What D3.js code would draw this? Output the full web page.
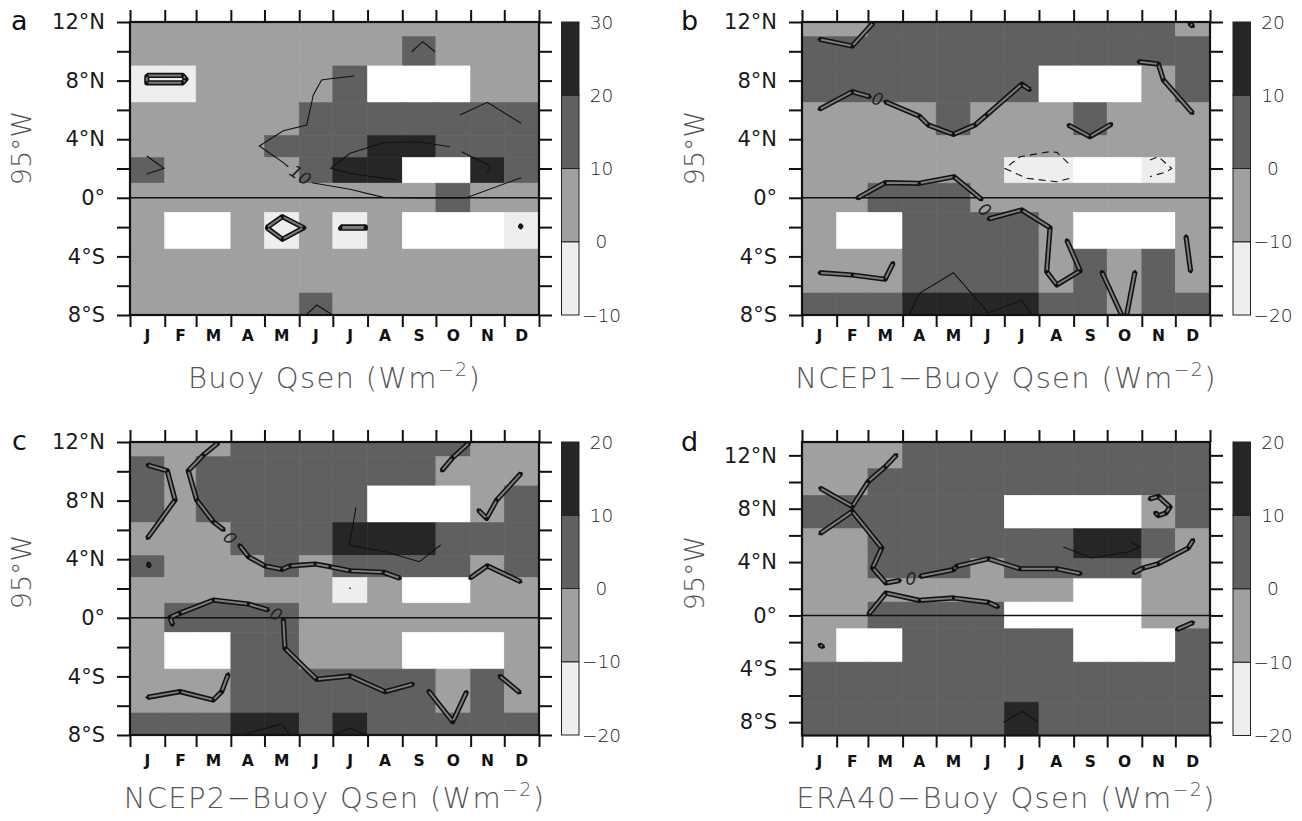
<!DOCTYPE html>
<html><head><meta charset="utf-8">
<script src="https://cdn.jsdelivr.net/npm/d3@7"></script>
<style>
body{margin:0;background:#fff}
svg{display:block}
text{font-family:"DejaVu Sans",sans-serif}
</style>
</head><body>
<svg id="chart" width="1302" height="821"></svg>
<script>
// ---------------- DATA ----------------
const monthLabels = ["J","F","M","A","M","J","J","A","S","O","N","D"];
const monthEdgeDays = [0,31,59,90,120,151,181,212,243,273,304,334,365];
const buoyLats = [12,10,8,5,3.5,2,0,-2,-5,-8];
const latTicks = [-8,-6,-4,-2,0,2,4,6,8,10,12];
const latTickLabels = {"12":"12°N","8":"8°N","4":"4°N","0":"0°","-4":"4°S","-8":"8°S"};
const panelLetters = ["a","b","c","d"];
const panelTitles = ["Buoy Qsen ","NCEP1\u2212Buoy Qsen ","NCEP2\u2212Buoy Qsen ","ERA40\u2212Buoy Qsen "];
const unitsBase = "(Wm", unitsExp = "\u22122", unitsEnd = ")";
const axisTitle = "95°W";
const levelsBuoy = [-10,0,10,20,30];
const levelsDiff = [-20,-10,0,10,20];
const shades = ["#eeeeee","#a0a0a0","#606060","#262626"];

// cell values (W m-2), rows = buoyLats, columns = months; null = no data
const buoyQsen = [
 [5,5,5,5,5,5,5,5,5,5,5,5],
 [5,5,5,5,5,5,5,5,15,5,5,5],
 [-5,-5,5,5,5,5,15,null,null,null,5,5],
 [5,5,5,5,5,15,15,15,15,15,15,15],
 [5,5,5,5,15,15,15,25,25,15,15,15],
 [15,5,5,5,5,15,25,25,null,null,25,15],
 [5,5,5,5,5,5,5,5,5,15,5,5],
 [5,null,null,5,-5,5,-5,5,null,null,null,-5],
 [5,5,5,5,5,5,5,5,5,5,5,5],
 [5,5,5,5,5,15,5,5,5,5,5,5]
];
const ncep1Diff = [
 [-5,-5,5,5,5,5,5,5,5,5,5,-5],
 [5,5,5,5,5,5,5,5,5,5,5,5],
 [5,5,5,5,5,5,5,null,null,null,-5,5],
 [-5,-5,-5,-5,5,-5,-5,-5,5,-5,-5,-5],
 [-5,-5,-5,-5,-5,-5,-5,-5,-5,-5,-5,-5],
 [-5,-5,-5,-5,-5,-5,-15,-15,null,null,-15,-5],
 [-5,-5,5,5,5,-5,-5,-5,-5,-5,-5,-5],
 [-5,null,null,5,5,5,5,-5,null,null,null,-5],
 [-5,-5,-5,5,5,5,5,-5,5,-5,5,-5],
 [5,5,5,15,15,15,15,5,5,-5,5,5]
];
const ncep2Diff = [
 [-5,-5,-5,5,5,5,5,5,5,5,-5,-5],
 [5,-5,5,5,5,5,5,5,5,-5,-5,-5],
 [5,-5,5,5,5,5,5,null,null,null,-5,5],
 [-5,-5,-5,5,5,5,15,15,15,5,5,5],
 [5,-5,-5,-5,5,-5,5,5,5,5,-5,5],
 [-5,-5,-5,-5,-5,-5,-15,-5,null,null,-5,-5],
 [-5,5,5,5,5,-5,-5,-5,-5,-5,-5,-5],
 [-5,null,null,5,5,-5,-5,-5,null,null,null,-5],
 [-5,-5,-5,5,5,5,5,5,5,-5,5,-5],
 [5,5,5,15,15,5,15,5,5,5,5,5]
];
const era40Diff = [
 [-5,-5,-5,5,5,5,5,5,5,5,5,5],
 [-5,-5,5,5,5,5,5,5,5,5,5,5],
 [5,5,5,5,5,5,null,null,null,null,-5,5],
 [-5,-5,5,5,5,5,5,5,15,15,5,-5],
 [-5,-5,5,5,5,-5,5,5,5,5,-5,-5],
 [-5,-5,-5,-5,-5,-5,-5,-5,null,null,-5,-5],
 [-5,-5,5,5,5,5,null,null,null,null,-5,-5],
 [-5,null,null,5,5,5,5,5,null,null,null,5],
 [5,5,5,5,5,5,5,5,5,5,5,5],
 [5,5,5,5,5,5,15,5,5,5,5,5]
];

// contour polylines as [day of year, latitude]; kind: zero (double line), pos (solid), neg (dashed)
const buoyContours = [
 {kind:"zero", pts:[[15,8.35],[47,8.35],[50,8.1],[47,7.85],[15,7.85],[15,8.35]]},
 {kind:"zero", pts:[[122,-2.04],[136,-1.29],[155,-2.04],[136,-2.83],[122,-2.04]]},
 {kind:"zero", pts:[[188,-1.99],[210,-1.99],[210,-2.07],[188,-2.07],[188,-1.99]]},
 {kind:"zero", pts:[[348.5,-1.85],[348.8,-2.05]]},
 {kind:"pos", pts:[[200,8.31],[178.5,8.13],[171,8.04],[163.6,7.02],[157.7,4.97],[136.8,4.58],[115.4,3.54],[136.8,2.4],[141.3,2.12]]},
 {kind:"pos", pts:[[162.2,1.03],[196.3,0.58],[226,0.03],[257.3,-0.01],[299.6,-0.01],[349,1.37]]},
 {kind:"pos", pts:[[294.5,5.65],[318.9,6.52],[349,5.09]]},
 {kind:"pos", pts:[[285.6,3.49],[257.3,3.83],[226.1,3.76],[196.3,3.04],[179.1,2.01],[196.3,1.67],[226.1,1.33],[238,1.26]]},
 {kind:"pos", pts:[[296,3.15],[319.8,2.24],[321.9,2.01],[318.3,1.78]]},
 {kind:"pos", pts:[[251.4,9.97],[261.2,10.66],[272.2,9.97]]},
 {kind:"pos", pts:[[14.9,2.85],[30.3,2.01],[14.9,1.62]]},
 {kind:"pos", pts:[[157.1,-8],[166.6,-7.32],[180.9,-8]]}
];
const ncep1Contours = [
 {kind:"zero", pts:[[15.5,10.82],[45,10.36],[63.8,11.95]]},
 {kind:"zero", pts:[[346.5,11.9],[350,11.7]]},
 {kind:"zero", pts:[[15.5,6.04],[45,7.24],[60.8,6.9]]},
 {kind:"zero", pts:[[74.3,6.56],[104.9,5.58],[113,4.97],[135.4,4.33],[154.8,4.97],[165.2,5.65],[196.6,7.75],[204,7.36]]},
 {kind:"zero", pts:[[49.5,-0.03],[74.3,1.03],[104.9,0.99],[136,1.44],[160.8,-0.12]]},
 {kind:"zero", pts:[[166.7,-1.45],[196.6,-0.83],[221.9,-2.04],[218.9,-5.04],[227.9,-5.95],[248.8,-4.98],[236.8,-2.88]]},
 {kind:"zero", pts:[[15.5,-5.11],[45,-5.27],[74.3,-5.56],[81.7,-4.43]]},
 {kind:"zero", pts:[[268.1,-5.04],[286,-8]]},
 {kind:"zero", pts:[[290.5,-8],[297.9,-5.04]]},
 {kind:"zero", pts:[[238.2,4.97],[257.6,4.17],[277,5.04]]},
 {kind:"zero", pts:[[300.9,9.29],[318.8,9.13],[323.3,8.04],[349.5,5.77]]},
 {kind:"zero", pts:[[343.5,-2.61],[347.7,-5.04]]},
 {kind:"neg", pts:[[238.2,2.36],[228,3.1],[222,3.15],[195,2.8],[181.6,2.0],[201,1.33],[228,1.1],[240,1.33]]},
 {kind:"neg", pts:[[311.3,2.58],[318.8,2.81],[330.7,2.01],[326.3,1.78],[311.3,1.44]]},
 {kind:"pos", pts:[[96,-8],[105,-6.52],[135.4,-5.11],[166.7,-7.84],[196.6,-6.98],[205.5,-8]]}
];
const ncep2Contours = [
 {kind:"zero", pts:[[15.5,10.43],[33.3,10.04],[40.2,8.04],[15.5,5.43]]},
 {kind:"zero", pts:[[78.8,11.95],[65.4,11.11],[52,10.04],[59.5,8.04],[74.3,6.56],[83.9,5.99]]},
 {kind:"zero", pts:[[97.5,4.97],[105.6,4.17],[120.5,3.54],[135.4,3.31],[142.8,3.54],[165.1,3.67],[178.5,3.49],[196.3,3.21],[226.1,3.11],[241,2.7]]},
 {kind:"zero", pts:[[303.4,2.7],[318.9,3.54],[348.7,2.46]]},
 {kind:"zero", pts:[[38.1,-0.49],[35.7,0.03],[44.6,0.31],[74.3,1.21],[105.6,0.94],[123.4,0.53]]},
 {kind:"zero", pts:[[136.8,-0.1],[138.3,-2.08],[166.6,-4.2],[196.3,-3.97],[227.6,-5.04],[252.8,-4.52]]},
 {kind:"zero", pts:[[15.5,-5.43],[44.6,-5.04],[74.3,-5.61],[81.8,-5.04],[87.7,-3.84]]},
 {kind:"zero", pts:[[266.2,-4.97],[288,-7.09],[300.5,-5.04]]},
 {kind:"zero", pts:[[329.6,-3.95],[348,-5.11]]},
 {kind:"zero", pts:[[278.2,10.04],[288,10.93],[302.8,11.95]]},
 {kind:"zero", pts:[[310.8,7.36],[318.3,6.79],[327.3,8.04],[349,9.86]]},
 {kind:"zero", pts:[[16.3,3.72],[17.3,3.5]]},
 {kind:"pos", pts:[[201.7,7.54],[195.7,4.97],[227.6,4.51],[258.2,3.83],[277.3,4.97]]},
 {kind:"pos", pts:[[195.8,2.05],[197,1.98]]},
 {kind:"pos", pts:[[104.1,-7.88],[135.4,-7.25],[142.8,-8]]},
 {kind:"pos", pts:[[181.4,-8],[196.3,-7.54],[211.2,-8]]}
];
const era40Contours = [
 {kind:"zero", pts:[[84.7,12.04],[74.3,11.12],[59.3,10.04],[45,8.17],[16.1,9.55]]},
 {kind:"zero", pts:[[16.1,6.13],[45,7.8],[71.3,5.06],[63.2,3.56],[75.1,2.43],[87.7,2.63]]},
 {kind:"zero", pts:[[105.6,2.93],[135.4,3.43],[138.4,3.68],[166.7,4.25],[195,3.5],[227.9,3.5],[249.6,3.13]]},
 {kind:"zero", pts:[[59.3,0.06],[75.1,1.68],[105,1.13],[135.4,1.31],[166.7,0.98],[175.6,0.64]]},
 {kind:"zero", pts:[[15.5,-2.19],[19.1,-2.36]]},
 {kind:"zero", pts:[[296.4,3.18],[305.3,3.56],[318.8,3.88],[345.6,5.06],[350.1,5.68]]},
 {kind:"zero", pts:[[310.7,8.73],[318.8,8.92],[329.2,8.13],[325.6,7.68],[318.8,7.48],[315.8,7.72]]},
 {kind:"zero", pts:[[335.2,-1.06],[350.1,-0.52]]},
 {kind:"pos", pts:[[233.8,5.13],[259.2,4.31],[290.5,4.73],[302.4,5.13],[294.1,5.5]]},
 {kind:"pos", pts:[[180.1,-8.01],[196.5,-7.19],[211.4,-8.01]]}
];
// contour labels [day, lat, text, angle]
const buoyLabels = [[152,1.55,"10",34]];
const ncep1Labels = [[67.5,6.75,"0",18],[163.5,-0.8,"0",40]];
const ncep2Labels = [[89.5,5.45,"0",48],[130.5,0.25,"0",30]];
const era40Labels = [[97.5,2.72,"0",0]];

// ---------------- LAYOUT ----------------
const panels = [
 {values:buoyQsen, levels:levelsBuoy, contours:buoyContours, labels:buoyLabels,
  x0:130, x1:539, y0:22, y1:315, ydom:[-8,12], cbx:561.5, letter:[11,30], ytitle:[21,148], mlab:341, title:388},
 {values:ncep1Diff, levels:levelsDiff, contours:ncep1Contours, labels:ncep1Labels,
  x0:802, x1:1210, y0:22, y1:315, ydom:[-8,12], cbx:1233, letter:[681,30], ytitle:[694,148], mlab:341, title:388},
 {values:ncep2Diff, levels:levelsDiff, contours:ncep2Contours, labels:ncep2Labels,
  x0:130, x1:539, y0:442, y1:735, ydom:[-8,12], cbx:561.5, letter:[12,450], ytitle:[21,572], mlab:766, title:808},
 {values:era40Diff, levels:levelsDiff, contours:era40Contours, labels:era40Labels,
  x0:802, x1:1210, y0:442, y1:735.5, ydom:[-9,13], cbx:1233, letter:[681,451], ytitle:[694,573], mlab:767, title:808}
];

const svg = d3.select("#chart");

panels.forEach((p, pi) => {
  const g = svg.append("g");
  const x = d3.scaleLinear().domain([0,365]).range([p.x0,p.x1]);
  const y = d3.scaleLinear().domain(p.ydom).range([p.y1,p.y0]);
  const color = d3.scaleThreshold().domain(p.levels.slice(1,-1)).range(shades);

  // cells
  const cells = [];
  buoyLats.forEach((lat, i) => {
    const top = i === 0 ? p.ydom[1] : (buoyLats[i-1] + lat) / 2;
    const bot = i === buoyLats.length - 1 ? p.ydom[0] : (lat + buoyLats[i+1]) / 2;
    for (let j = 0; j < 12; j++) cells.push({top, bot, d0:monthEdgeDays[j], d1:monthEdgeDays[j+1], v:p.values[i][j]});
  });
  g.append("g").selectAll("rect").data(cells).join("rect")
    .attr("x", d => x(d.d0)).attr("width", d => x(d.d1) - x(d.d0))
    .attr("y", d => y(d.top)).attr("height", d => y(d.bot) - y(d.top))
    .attr("fill", d => d.v === null ? "#ffffff" : color(d.v))
    .attr("stroke", d => d.v === null ? "#ffffff" : color(d.v)).attr("stroke-width", 0.6);

  // clip
  const cid = "clip" + pi;
  svg.append("clipPath").attr("id", cid).append("rect")
    .attr("x", p.x0).attr("y", p.y0).attr("width", p.x1 - p.x0).attr("height", p.y1 - p.y0);
  const cg = g.append("g").attr("clip-path", `url(#${cid})`);

  // equator line
  cg.append("line").attr("x1", p.x0).attr("x2", p.x1).attr("y1", y(0)).attr("y2", y(0))
    .attr("stroke", "#111").attr("stroke-width", 1.6);

  const line = d3.line().x(d => x(d[0])).y(d => y(d[1]));
  p.contours.forEach(c => {
    if (c.kind === "zero") {
      cg.append("path").attr("d", line(c.pts)).attr("fill","none").attr("stroke","#121212")
        .attr("stroke-width",5.2).attr("stroke-linejoin","round");
      cg.append("path").attr("d", line(c.pts)).attr("fill","none").attr("stroke","#7c7c7c")
        .attr("stroke-width",2).attr("stroke-linejoin","round");
      cg.selectAll(null).data(c.pts).join("circle").attr("cx", d => x(d[0])).attr("cy", d => y(d[1]))
        .attr("r", 1.7).attr("fill", "#111");
    } else {
      cg.append("path").attr("d", line(c.pts)).attr("fill","none").attr("stroke","#111")
        .attr("stroke-width",1.1).attr("stroke-dasharray", c.kind === "neg" ? "7,5" : null);
    }
  });
  p.labels.forEach(l => {
    cg.append("text").attr("transform", `translate(${x(l[0])},${y(l[1])}) rotate(${l[3]})`)
      .attr("text-anchor","middle").attr("dy","0.36em").attr("font-size",17).attr("font-style","italic")
      .attr("fill","#222").text(l[2]);
  });

  // axes
  const yAxisL = d3.axisLeft(y).tickValues(latTicks).tickSize(13).tickSizeOuter(0).tickPadding(12)
    .tickFormat(d => latTickLabels[String(d)] || "");
  const ga = g.append("g").attr("transform", `translate(${p.x0},0)`).call(yAxisL);
  ga.select(".domain").remove();
  ga.selectAll("text").attr("font-size", 21).attr("fill", "#1a1a1a").attr("font-family","DejaVu Sans");
  const gr = g.append("g").attr("transform", `translate(${p.x1},0)`)
    .call(d3.axisRight(y).tickValues(latTicks).tickSize(13).tickFormat(""));
  gr.select(".domain").remove();
  const gt = g.append("g").attr("transform", `translate(0,${p.y0})`)
    .call(d3.axisTop(x).tickValues(monthEdgeDays).tickSize(12).tickFormat(""));
  gt.select(".domain").remove();
  const gb = g.append("g").attr("transform", `translate(0,${p.y1})`)
    .call(d3.axisBottom(x).tickValues(monthEdgeDays).tickSize(12).tickFormat(""));
  gb.select(".domain").remove();
  g.selectAll(".tick line").attr("stroke", "#111").attr("stroke-width", 2);

  // month labels
  const mids = monthEdgeDays.slice(0,12).map((d,j) => (d + monthEdgeDays[j+1]) / 2);
  g.append("g").selectAll("text").data(mids).join("text")
    .attr("x", d => x(d)).attr("y", p.mlab).attr("text-anchor","middle")
    .attr("font-size", 15.5).attr("font-weight",600).attr("fill","#111")
    .text((d,j) => monthLabels[j]);

  // frame
  g.append("rect").attr("x", p.x0).attr("y", p.y0).attr("width", p.x1 - p.x0).attr("height", p.y1 - p.y0)
    .attr("fill","none").attr("stroke","#111").attr("stroke-width",2.2);

  // colorbar
  const cbScale = d3.scaleLinear().domain([p.levels[0], p.levels[p.levels.length-1]]).range([p.y1, p.y0]);
  const boxes = d3.range(p.levels.length - 1).map(k => ({lo:p.levels[k], hi:p.levels[k+1], c:shades[k]}));
  g.append("g").selectAll("rect").data(boxes).join("rect")
    .attr("x", p.cbx).attr("width", 17.5)
    .attr("y", d => cbScale(d.hi)).attr("height", d => cbScale(d.lo) - cbScale(d.hi))
    .attr("fill", d => d.c).attr("stroke","#222").attr("stroke-width",1);
  g.append("g").selectAll("text").data(p.levels).join("text")
    .attr("x", p.cbx + 40).attr("y", d => cbScale(d)).attr("dy","0.36em").attr("text-anchor","middle")
    .attr("font-size", 18.5).attr("font-weight", 200).attr("fill","#222")
    .text(d => d3.format("d")(d));

  // letter
  g.append("text").attr("x", p.letter[0]).attr("y", p.letter[1]).attr("font-size", 27).attr("fill","#111").text(panelLetters[pi]);
  // y title
  g.append("text").attr("transform", `translate(${p.ytitle[0]},${p.ytitle[1]}) rotate(-90)`)
    .attr("text-anchor","middle").attr("dy","0.36em").attr("font-size", 27).attr("font-weight",200)
    .attr("fill","#555").text(axisTitle);
  // bottom title
  const t = g.append("text").attr("x", (p.x0 + p.x1) / 2).attr("y", p.title).attr("text-anchor","middle")
    .attr("font-size", 29).attr("font-weight", 200).attr("fill","#555").attr("letter-spacing", 1.3);
  t.append("tspan").text(panelTitles[pi] + unitsBase);
  t.append("tspan").attr("font-size", 19).attr("dy", -12).text(unitsExp);
  t.append("tspan").attr("dy", 12).text(unitsEnd);
});
</script>
</body></html>
